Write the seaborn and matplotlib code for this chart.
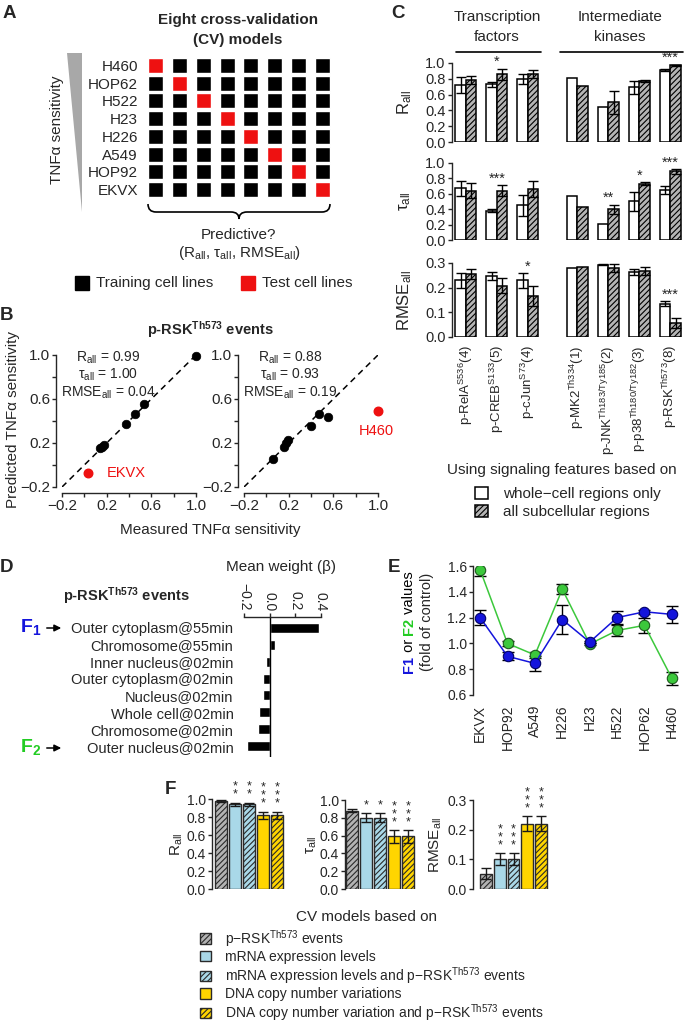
import numpy as np
import pandas as pd
import matplotlib
matplotlib.use('Agg')
import matplotlib.pyplot as plt
import seaborn as sns
from matplotlib.patches import Patch, Polygon, PathPatch
from matplotlib.path import Path

W, H = 685, 1022

sns.set_theme(style='ticks')
plt.rcParams['font.family'] = ['Liberation Sans', 'DejaVu Sans']
plt.rcParams['mathtext.fontset'] = 'custom'
plt.rcParams['mathtext.rm'] = 'Liberation Sans'
plt.rcParams['mathtext.it'] = 'Liberation Sans:italic'
plt.rcParams['mathtext.bf'] = 'Liberation Sans:bold'
plt.rcParams['hatch.linewidth'] = 0.8
plt.rcParams['axes.linewidth'] = 1.0
plt.rcParams['xtick.major.width'] = 1.0
plt.rcParams['ytick.major.width'] = 1.0
plt.rcParams['xtick.major.size'] = 3
plt.rcParams['ytick.major.size'] = 3
plt.rcParams['xtick.major.pad'] = 1.5
plt.rcParams['ytick.major.pad'] = 1.5

# ---- data: panel A ----
cell_lines = ['H460', 'HOP62', 'H522', 'H23', 'H226', 'A549', 'HOP92', 'EKVX']

# ---- data: panel B ----
b1_measured = [1.0, 0.53, 0.45, 0.37, 0.18, 0.16, 0.14]
b1_predicted = [0.99, 0.55, 0.46, 0.37, 0.18, 0.16, 0.15]
b1_test = ('EKVX', 0.03, -0.07)
b1_stats = ['0.99', '1.00', '0.04']
b2_measured = [0.06, 0.16, 0.18, 0.19, 0.40, 0.47, 0.55]
b2_predicted = [0.05, 0.16, 0.20, 0.23, 0.35, 0.46, 0.44]
b2_test = ('H460', 1.0, 0.49)
b2_stats = ['0.88', '0.93', '0.19']

# ---- data: panel C ----
c_groups = ['p-RelA$^{\\rm S536}$(4)', 'p-CREB$^{\\rm S133}$(5)', 'p-cJun$^{\\rm S73}$(4)',
            'p-MK2$^{\\rm Th334}$(1)', 'p-JNK$^{\\rm Th183/Ty185}$(2)',
            'p-p38$^{\\rm Th180/Ty182}$(3)', 'p-RSK$^{\\rm Th573}$(8)']
rall_whole = [0.72, 0.73, 0.80, 0.81, 0.44, 0.69, 0.91]
rall_whole_err = [0.10, 0.03, 0.06, 0, 0, 0.08, 0.01]
rall_sub = [0.78, 0.86, 0.86, 0.71, 0.50, 0.77, 0.97]
rall_sub_err = [0.05, 0.07, 0.05, 0, 0.15, 0.01, 0.01]
rall_stars = ['', '*', '', '', '', '', '***']
tau_whole = [0.67, 0.38, 0.45, 0.57, 0.21, 0.50, 0.65]
tau_whole_err = [0.10, 0.02, 0.14, 0, 0, 0.12, 0.05]
tau_sub = [0.64, 0.64, 0.66, 0.43, 0.40, 0.73, 0.89]
tau_sub_err = [0.10, 0.07, 0.10, 0, 0.06, 0.02, 0.03]
tau_stars = ['', '***', '', '', '**', '*', '***']
rmse_whole = [0.23, 0.248, 0.23, 0.28, 0.293, 0.265, 0.135]
rmse_whole_err = [0.03, 0.017, 0.03, 0, 0.002, 0.012, 0.01]
rmse_sub = [0.255, 0.208, 0.165, 0.285, 0.28, 0.267, 0.057]
rmse_sub_err = [0.02, 0.03, 0.04, 0, 0.015, 0.015, 0.02]
rmse_stars = ['', '', '*', '', '', '', '***']

# ---- data: panel D ----
d_features = ['Outer cytoplasm@55min', 'Chromosome@55min', 'Inner nucleus@02min',
              'Outer cytoplasm@02min', 'Nucleus@02min', 'Whole cell@02min',
              'Chromosome@02min', 'Outer nucleus@02min']
d_weights = [0.39, 0.04, -0.03, -0.055, -0.055, -0.085, -0.09, -0.18]

# ---- data: panel E ----
e_lines = ['EKVX', 'HOP92', 'A549', 'H226', 'H23', 'H522', 'HOP62', 'H460']
f1_vals = [1.20, 0.90, 0.845, 1.185, 1.01, 1.20, 1.245, 1.225]
f1_err = [0.06, 0.03, 0.06, 0.115, 0.01, 0.05, 0.015, 0.065]
f2_vals = [1.57, 1.00, 0.91, 1.42, 0.995, 1.10, 1.14, 0.73]
f2_err = [0.05, 0.02, 0.02, 0.04, 0.01, 0.04, 0.06, 0.05]

# ---- data: panel F ----
f_models = ['p\u2212RSK$^{\\rm Th573}$ events', 'mRNA expression levels',
            'mRNA expression levels and p\u2212RSK$^{\\rm Th573}$ events',
            'DNA copy number variations',
            'DNA copy number variation and p\u2212RSK$^{\\rm Th573}$ events']
f_rall = [0.98, 0.94, 0.94, 0.82, 0.82]
f_rall_err = [0.01, 0.02, 0.02, 0.04, 0.04]
f_rall_stars = [0, 2, 2, 3, 3]
f_tau = [0.88, 0.80, 0.80, 0.59, 0.59]
f_tau_err = [0.02, 0.05, 0.05, 0.07, 0.07]
f_tau_stars = [0, 1, 1, 3, 3]
f_rmse = [0.052, 0.10, 0.10, 0.22, 0.22]
f_rmse_err = [0.018, 0.02, 0.02, 0.025, 0.025]
f_rmse_stars = [0, 3, 3, 3, 3]

# ---- styles ----
RED = '#ee1111'
BLUE = '#1414dc'
GREEN = '#3cc83c'
F_COLORS = ['#b3b3b3', '#a9d8e8', '#a9d8e8', '#ffd500', '#ffd500']
F_HATCH = [True, False, True, False, True]

fig = plt.figure(figsize=(W / 100, H / 100), dpi=100)


def add_ax(x0, y0, x1, y1):
    ax = fig.add_axes([x0 / W, 1 - y1 / H, (x1 - x0) / W, (y1 - y0) / H])
    ax.set_facecolor('none')
    return ax


ov = fig.add_axes([0, 0, 1, 1])
ov.set_xlim(0, W)
ov.set_ylim(H, 0)
ov.axis('off')


def label(x, y, s, size=10, **kw):
    return ov.text(x, y, s, fontsize=size, ha=kw.pop('ha', 'center'), va=kw.pop('va', 'center'), **kw)


for letter, lx, ly in [('A', 9, 14), ('B', 7, 316), ('C', 398, 14),
                       ('D', 7, 568), ('E', 394, 567), ('F', 170, 789)]:
    label(lx, ly, letter, size=13.5, weight='bold')

# ================= Panel A =================
axA = add_ax(143.6, 56.6, 334.4, 198.4)
n = len(cell_lines)
rows = np.arange(n)
for j in range(n):
    colors = [RED if i == j else 'black' for i in rows]
    axA.bar(np.full(n, j), height=0.85, bottom=rows - 0.425, width=0.63, color=colors)
axA.set_xlim(-0.5, n - 0.5)
axA.set_ylim(n - 0.5, -0.5)
axA.set_xticks([])
axA.set_yticks(rows)
axA.set_yticklabels(cell_lines, fontsize=11)
axA.tick_params(axis='y', length=0, pad=4)
sns.despine(ax=axA, left=True, bottom=True)

label(238, 20, 'Eight cross-validation', size=11, weight='bold')
label(238, 40, '(CV) models', size=11, weight='bold')
ov.add_patch(Polygon([[67, 53], [82, 53], [82, 212]], closed=True, color='#a8a8a8', lw=0))
label(57, 130, 'TNF\u03b1 sensitivity', size=11, rotation=90)
brace = Path([(148, 204), (148, 212), (156, 212), (231, 212), (239, 212), (239, 219),
              (239, 212), (247, 212), (322, 212), (330, 212), (330, 204)],
             [Path.MOVETO, Path.CURVE3, Path.CURVE3, Path.LINETO, Path.CURVE3, Path.CURVE3,
              Path.CURVE3, Path.CURVE3, Path.LINETO, Path.CURVE3, Path.CURVE3])
ov.add_patch(PathPatch(brace, fill=False, lw=1.2, color='black'))
label(239, 235, 'Predictive?', size=11)
label(239, 253, '(R$_{\\rm all}$, \u03c4$_{\\rm all}$, RMSE$_{\\rm all}$)', size=11)
ov.add_patch(plt.Rectangle((75, 276), 14, 14, color='black'))
label(96, 283, 'Training cell lines', size=11, ha='left')
ov.add_patch(plt.Rectangle((241, 276), 14, 14, color=RED))
label(262, 283, 'Test cell lines', size=11, ha='left')

# ================= Panel B =================
label(210, 330, 'p-RSK$^{\\bf Th573}$ events', size=10.5, weight='bold')
b_ticks = [-0.2, 0.0, 0.2, 0.4, 0.6, 0.8, 1.0]
b_ticklabels = ['\u22120.2', '', '0.2', '', '0.6', '', '1.0']
for (x0, x1), meas, pred, test, stats in [((62, 196), b1_measured, b1_predicted, b1_test, b1_stats),
                                          ((244, 378), b2_measured, b2_predicted, b2_test, b2_stats)]:
    ax = add_ax(x0, 355, x1, 487)
    lim = (b_ticks[0], b_ticks[-1])
    ax.plot(lim, lim, ls=(0, (4, 3)), color='black', lw=1.1)
    sns.scatterplot(x=meas, y=pred, color='black', s=38, edgecolor='black', linewidth=0.5,
                    clip_on=False, zorder=3, ax=ax)
    name, tx, ty = test
    ax.scatter([tx], [ty], color=RED, s=38, clip_on=False, zorder=3)
    ax.set_xlim(lim)
    ax.set_ylim(lim)
    ax.set_xticks(b_ticks)
    ax.set_xticklabels(b_ticklabels, fontsize=10)
    ax.set_yticks(b_ticks)
    ax.set_yticklabels(b_ticklabels, fontsize=10)
    for s in ['left', 'bottom']:
        ax.spines[s].set_position(('outward', 4))
    sns.despine(ax=ax)
    cx = x0 + 46
    label(cx, 358, 'R$_{\\rm all}$ = ' + stats[0], size=10)
    label(cx, 375, '\u03c4$_{\\rm all}$ = ' + stats[1], size=10)
    label(cx, 393, 'RMSE$_{\\rm all}$ = ' + stats[2], size=10)
label(107, 473, b1_test[0], size=10.5, color=RED, ha='left')
label(376, 431, b2_test[0], size=10.5, color=RED)
label(13, 420, 'Predicted TNF\u03b1 sensitivity', size=11, rotation=90)
label(210, 530, 'Measured TNF\u03b1 sensitivity', size=11)

# ================= Panel C =================
c_pos = np.array([0, 1, 2, 3.6, 4.6, 5.6, 6.6])
c_rows = [(63, 142, rall_whole, rall_whole_err, rall_sub, rall_sub_err, rall_stars,
           1.0, [0, 0.2, 0.4, 0.6, 0.8, 1.0], 'R$_{\\rm all}$', 0.03),
          (163, 240, tau_whole, tau_whole_err, tau_sub, tau_sub_err, tau_stars,
           1.0, [0, 0.2, 0.4, 0.6, 0.8, 1.0], '\u03c4$_{\\rm all}$', 0.03),
          (263, 337, rmse_whole, rmse_whole_err, rmse_sub, rmse_sub_err, rmse_stars,
           0.3, [0, 0.1, 0.2, 0.3], 'RMSE$_{\\rm all}$', 0.009)]
bw = 0.34
for k, (y0, y1, wv, we, sv, se, stars, top, ticks, ylab, soff) in enumerate(c_rows):
    ax = add_ax(452, y0, 685, y1)
    df = pd.DataFrame({'pos': np.concatenate([c_pos, c_pos]),
                       'value': wv + sv,
                       'kind': ['whole'] * 7 + ['sub'] * 7})
    sns.barplot(data=df, x='pos', y='value', hue='kind', native_scale=True,
                palette={'whole': 'white', 'sub': '#b4b4b4'}, width=2 * bw,
                edgecolor='black', linewidth=1.1, errorbar=None, legend=False, ax=ax)
    for p in ax.patches:
        if p.get_facecolor()[0] < 0.9:
            p.set_hatch('//////')
    for off, vals, errs in [(-bw / 2, wv, we), (bw / 2, sv, se)]:
        idx = [i for i, e in enumerate(errs) if e > 0]
        ax.errorbar(c_pos[idx] + off, np.array(vals)[idx], yerr=np.array(errs)[idx], fmt='none',
                    ecolor='black', elinewidth=1.0, capsize=3.5, capthick=1.0, zorder=4)
    for i, st in enumerate(stars):
        if st:
            ytop = max(wv[i] + we[i], sv[i] + se[i])
            ax.text(c_pos[i], ytop + soff, st, ha='center', va='baseline', fontsize=10.5,
                    clip_on=False)
    ax.set_xlim(-0.45, 7.07)
    ax.set_ylim(0, top)
    ax.set_yticks(ticks)
    ax.set_yticklabels(['%.1f' % t for t in ticks], fontsize=10.5)
    ax.set_xlabel('')
    ax.set_ylabel('')
    if k == 2:
        ax.set_xticks(c_pos)
        ax.set_xticklabels(c_groups, rotation=90, fontsize=9.5, va='top')
        ax.tick_params(axis='x', length=0, pad=6)
    else:
        ax.set_xticks([])
    sns.despine(ax=ax, bottom=True)
    label(405, (y0 + y1) / 2, ylab, size=12, rotation=90)

label(497, 17, 'Transcription', size=11)
label(497, 37, 'factors', size=11)
ov.plot([456, 541], [52, 52], color='black', lw=1.2)
label(620, 17, 'Intermediate', size=11)
label(620, 37, 'kinases', size=11)
ov.plot([560, 683], [52, 52], color='black', lw=1.2)
label(447, 470, 'Using signaling features based on', size=11, ha='left')
fig.legend(handles=[Patch(facecolor='white', edgecolor='black', lw=1.1),
                    Patch(facecolor='#b4b4b4', edgecolor='black', lw=1.1, hatch='//////')],
           labels=['whole\u2212cell regions only', 'all subcellular regions'],
           loc='upper left', bbox_to_anchor=(475 / W, 1 - 487 / H), frameon=False,
           fontsize=11, handlelength=0.85, handleheight=0.85, handletextpad=1.0,
           labelspacing=0.22, borderaxespad=0, borderpad=0)

# ================= Panel D =================
axD = add_ax(244.5, 617, 327, 757)
sns.barplot(x=d_weights, y=d_features, orient='h', color='black', width=0.6,
            saturation=1, ax=axD)
axD.set_xlim(-0.2, 0.45)
axD.set_ylim(len(d_features) - 0.35, -0.65)
axD.axvline(0, color='black', lw=1.0)
axD.xaxis.set_ticks_position('top')
axD.set_xticks([-0.2, 0.0, 0.2, 0.4])
axD.set_xticklabels(['\u22120.2', '0.0', '0.2', '0.4'], fontsize=10)
axD.tick_params(axis='x', labelrotation=-90, top=True, bottom=False, labeltop=True, labelbottom=False)
axD.tick_params(axis='y', length=0, pad=8, labelsize=10.5)
for s in ['left', 'right', 'bottom']:
    axD.spines[s].set_visible(False)
axD.spines['top'].set_visible(True)
axD.spines['top'].set_bounds(-0.2, 0.4)
label(281, 567, 'Mean weight (\u03b2)', size=11)
label(126, 596, 'p-RSK$^{\\bf Th573}$ events', size=10.5, weight='bold')
label(31, 627, '$\\mathbf{F_1}$', size=14, color=BLUE)
label(31, 747, '$\\mathbf{F_2}$', size=14, color='#22cc22')
ov.annotate('', xy=(64, 628), xytext=(44, 628),
            arrowprops=dict(arrowstyle='-|>', color='black', lw=1.1, mutation_scale=10))
ov.annotate('', xy=(64, 748), xytext=(44, 748),
            arrowprops=dict(arrowstyle='-|>', color='black', lw=1.1, mutation_scale=10))

# ================= Panel E =================
axE = add_ax(473, 566, 685, 695)
e_pos = np.arange(len(e_lines))
axE.errorbar(e_pos, f2_vals, yerr=f2_err, fmt='none', ecolor='black', elinewidth=1.0,
             capsize=4, capthick=1.0, zorder=2)
axE.errorbar(e_pos, f1_vals, yerr=f1_err, fmt='none', ecolor='black', elinewidth=1.0,
             capsize=4, capthick=1.0, zorder=2)
sns.lineplot(x=e_pos, y=f2_vals, color=GREEN, lw=1.1, marker='o', markersize=7.5,
             markerfacecolor=GREEN, markeredgecolor='#1d5a1d', markeredgewidth=0.8,
             zorder=3, ax=axE)
sns.lineplot(x=e_pos, y=f1_vals, color=BLUE, lw=1.1, marker='o', markersize=7.5,
             markerfacecolor=BLUE, markeredgecolor='#000066', markeredgewidth=0.8,
             zorder=4, ax=axE)
axE.set_xlim(-0.26, 7.48)
axE.set_ylim(0.6, 1.6)
axE.set_yticks([0.6, 0.8, 1.0, 1.2, 1.4, 1.6])
axE.set_yticklabels(['0.6', '0.8', '1.0', '1.2', '1.4', '1.6'], fontsize=10)
axE.set_xticks(e_pos)
axE.set_xticklabels(e_lines, rotation=90, fontsize=10, va='top')
axE.tick_params(axis='x', length=0, pad=7)
sns.despine(ax=axE, bottom=True)

renderer = fig.canvas.get_renderer()
pieces = [('F1', BLUE, 'bold'), (' or ', 'black', 'normal'), ('F2', '#22cc22', 'bold'),
          (' values', 'black', 'normal')]
texts = [ov.text(0, 0, s, color=c, weight=wt, fontsize=10.5, rotation=90, ha='center',
                 va='bottom') for s, c, wt in pieces]
lengths = [t.get_window_extent(renderer).height for t in texts]
ycur = 622 + sum(lengths) / 2
for t, ln in zip(texts, lengths):
    t.set_position((409, ycur))
    ycur -= ln
label(427, 622, '(fold of control)', size=10.5, rotation=90)

# ================= Panel F =================
f_axes = [((212, 287, 799, 889), (-0.64, 4.72), f_rall, f_rall_err, f_rall_stars, 1.0,
           [0, 0.2, 0.4, 0.6, 0.8, 1.0], 'R$_{\\rm all}$', 177),
          ((345, 418, 800, 889), (-0.5, 4.7), f_tau, f_tau_err, f_tau_stars, 1.0,
           [0, 0.2, 0.4, 0.6, 0.8, 1.0], '\u03c4$_{\\rm all}$', 312),
          ((473, 551, 800, 889), (-0.98, 4.75), f_rmse, f_rmse_err, f_rmse_stars, 0.3,
           [0, 0.1, 0.2, 0.3], 'RMSE$_{\\rm all}$', 436)]
for (x0, x1, y0, y1), xl, vals, errs, nstars, top, ticks, ylab, lx in f_axes:
    ax = add_ax(x0, y0, x1, y1)
    sns.barplot(x=list(range(5)), y=vals, hue=list(range(5)), palette=F_COLORS, width=0.86,
                edgecolor='#2a2a2a', linewidth=1.0, saturation=1, legend=False, ax=ax)
    bars = sorted(ax.patches, key=lambda p: p.get_x())
    for p, hatched in zip(bars, F_HATCH):
        if hatched:
            p.set_hatch('//////')
    ax.errorbar(range(5), vals, yerr=errs, fmt='none', ecolor='#1a1a1a', elinewidth=1.0,
                capsize=3.5, capthick=1.0, zorder=4)
    for i, ns in enumerate(nstars):
        if ns:
            ax.text(i, vals[i] + errs[i] + 0.02 * top, '\n'.join(['*'] * ns), ha='center',
                    va='bottom', fontsize=9, linespacing=0.55, clip_on=False)
    ax.set_xlim(xl)
    ax.set_ylim(0, top)
    ax.set_yticks(ticks)
    ax.set_yticklabels(['%.1f' % t for t in ticks], fontsize=10)
    ax.set_xticks([])
    ax.set_xlabel('')
    ax.set_ylabel('')
    sns.despine(ax=ax, bottom=True)
    label(lx, (y0 + y1) / 2, ylab, size=11, rotation=90)

label(367, 917, 'CV models based on', size=11)
f_handles = [Patch(facecolor=c, edgecolor='#2a2a2a', lw=1.0, hatch='//////' if h else None)
             for c, h in zip(F_COLORS, F_HATCH)]
fig.legend(handles=f_handles, labels=f_models, loc='upper left',
           bbox_to_anchor=(200 / W, 1 - 928 / H), frameon=False, fontsize=10,
           handlelength=0.8, handleheight=0.8, handletextpad=1.0, labelspacing=0.08,
           borderaxespad=0, borderpad=0)

fig.savefig('out.png', dpi=100)
